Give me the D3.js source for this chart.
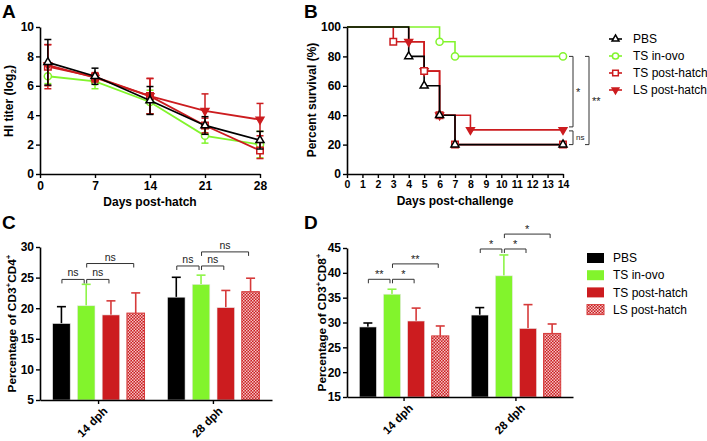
<!DOCTYPE html>
<html><head><meta charset="utf-8">
<script src="https://cdn.jsdelivr.net/npm/d3@7/dist/d3.min.js"></script>
<style>
body{margin:0;background:#fff}
text{font-family:"Liberation Sans",Arial,Helvetica,sans-serif}
</style></head>
<body>
<svg id="chart" width="707" height="441"></svg>
<script>
// ---------- DATA ----------
const groups = ["PBS", "TS in-ovo", "TS post-hatch", "LS post-hatch"];
const groupColors = ["#000000", "#82f42c", "#cc1c1f", "#cc1c1f"];
const markerTypes = ["tri", "circ", "sq", "tridown"];

// Panel A: HI titer
const hiDays = [1, 7, 14, 21, 28];
const hiPBS = [7.6, 6.65, 5.0, 3.3, 2.3];
const hiPBSErr = [1.55, 0.55, 0.95, 0.6, 0.6];
const hiInovo = [6.65, 6.3, 4.9, 2.6, 2.0];
const hiInovoErr = [0.5, 0.5, 0.8, 0.5, 0.9];
const hiTSph = [7.3, 6.6, 5.3, 3.3, 1.6];
const hiTSphErr = [1.5, 0.3, 1.2, 0.5, 0.55];
const hiLSph = [7.4, 6.55, 5.3, 4.3, 3.7];
const hiLSphErr = [1.4, 0.3, 1.2, 1.15, 1.1];
const hiYTicks = [0, 2, 4, 6, 8, 10];
const hiXTicks = [0, 7, 14, 21, 28];

// Panel B: survival
const survDays = [0,1,2,3,4,5,6,7,8,9,10,11,12,13,14];
const survPBS   = [100,100,100,100,80,60,40,20,20,20,20,20,20,20,20];
const survInovo = [100,100,100,100,100,100,90,80,80,80,80,80,80,80,80];
const survTSph  = [100,100,100,90,90,70,40,20,20,20,20,20,20,20,20];
const survLSph  = [100,100,100,100,90,70,40,40,30,30,30,30,30,30,30];
const survMarkPBS = [4,5,6,7,14];
const survMarkInovo = [6,7,14];
const survMarkTSph = [3,5,6,7,14];
const survMarkLSph = [4,5,6,8,14];
const survYTicks = [0,20,40,60,80,100];
// comparisons: [fromValue, toValue, label, column]
const survSig = [[80, 30, "*", 0], [30, 20, "ns", 0], [80, 20, "**", 1]];

// Panel C: CD3+CD4+
const timepoints = ["14 dph", "28 dph"];
const cd4Mean14 = [17.5, 20.4, 18.9, 19.2];
const cd4Err14  = [2.75, 3.5, 2.3, 3.3];
const cd4Mean28 = [21.8, 23.9, 20.1, 22.7];
const cd4Err28  = [3.25, 1.5, 2.8, 2.2];
const cd4YTicks = [5,10,15,20,25,30];
// [timepoint, groupA, groupB, yValue, label]
const cd4Sig = [[0,0,1,24.7,"ns"],[0,1,2,24.7,"ns"],[0,1,3,27.3,"ns"],
                [1,0,1,26.9,"ns"],[1,1,2,26.9,"ns"],[1,1,3,29.2,"ns"]];

// Panel D: CD3+CD8+
const cd8Mean14 = [29.1, 35.7, 30.3, 27.3];
const cd8Err14  = [0.8, 1.0, 2.6, 2.0];
const cd8Mean28 = [31.5, 39.4, 28.8, 27.8];
const cd8Err28  = [1.5, 4.2, 4.8, 1.9];
const cd8YTicks = [15,20,25,30,35,40,45];
const cd8Sig = [[0,0,1,38.7,"**"],[0,1,2,38.7,"*"],[0,1,3,41.8,"**"],
                [1,0,1,44.8,"*"],[1,1,2,44.8,"*"],[1,1,3,47.8,"*"]];

// ---------- DRAW ----------
const svg = d3.select("#chart");
const defs = svg.append("defs");
const pat = defs.append("pattern").attr("id","checker").attr("patternUnits","userSpaceOnUse")
  .attr("width",3).attr("height",3);
pat.append("rect").attr("width",3).attr("height",3).attr("fill","#cc1c1f");
pat.append("rect").attr("x",0).attr("y",0).attr("width",1.5).attr("height",1.5).attr("fill","#f2c4c4");
pat.append("rect").attr("x",1.5).attr("y",1.5).attr("width",1.5).attr("height",1.5).attr("fill","#f2c4c4");

function styleAxis(g, fs){
  g.select(".domain").attr("stroke","#000").attr("stroke-width",1.6);
  g.selectAll(".tick line").attr("stroke","#000").attr("stroke-width",1.4);
  g.selectAll(".tick text").attr("fill","#000").attr("font-weight","bold")
    .attr("font-size",fs).attr("font-family",'"Liberation Sans",Arial,sans-serif');
}

function marker(g, type, x, y, color, size){
  size = size || 1;
  let sym, rot = 0, filled = false, area;
  if (type==="tri"){ sym = d3.symbolTriangle; area = 28*size; }
  else if (type==="circ"){ sym = d3.symbolCircle; area = 40*size; }
  else if (type==="sq"){ sym = d3.symbolSquare; area = 42*size; }
  else { sym = d3.symbolTriangle; rot = 180; filled = true; area = 26*size; }
  g.append("path").attr("d", d3.symbol().type(sym).size(area)())
    .attr("transform", `translate(${x},${y}) rotate(${rot})`)
    .attr("fill", filled ? color : "#fff").attr("stroke", color).attr("stroke-width",1.5);
}

function panelLetter(t,x,y){
  svg.append("text").attr("x",x).attr("y",y).text(t).attr("font-size",19).attr("font-weight","bold");
}
panelLetter("A",2,18); panelLetter("B",304,18); panelLetter("C",2,229); panelLetter("D",304,229);

// ===== Panel A =====
{
  const x = d3.scaleLinear().domain([0,28]).range([40,260]);
  const y = d3.scaleLinear().domain([0,10]).range([174,27]);
  const g = svg.append("g");
  const gx = g.append("g").attr("transform","translate(0,174)")
    .call(d3.axisBottom(x).tickValues(hiXTicks).tickSize(4).tickSizeOuter(0).tickPadding(3));
  styleAxis(gx, 12);
  const gy = g.append("g").attr("transform","translate(40,0)")
    .call(d3.axisLeft(y).tickValues(hiYTicks).tickSize(4).tickSizeOuter(0).tickPadding(2));
  styleAxis(gy, 12);
  g.append("text").attr("x",150).attr("y",206).attr("text-anchor","middle")
    .attr("font-size",12).attr("font-weight","bold").text("Days post-hatch");
  const yt = g.append("text").attr("transform","translate(13,101) rotate(-90)")
    .attr("text-anchor","middle").attr("font-size",12).attr("font-weight","bold");
  yt.append("tspan").text("HI titer (log");
  yt.append("tspan").attr("font-size",8).attr("dy",3).text("2");
  yt.append("tspan").attr("dy",-3).text(")");

  const series = [
    {m: hiInovo, e: hiInovoErr, i: 1},
    {m: hiTSph, e: hiTSphErr, i: 2},
    {m: hiLSph, e: hiLSphErr, i: 3},
    {m: hiPBS, e: hiPBSErr, i: 0}
  ];
  const line = d3.line().x((d,k)=>x(hiDays[k])).y(d=>y(d));
  series.forEach(s=>{
    const c = groupColors[s.i];
    const sg = g.append("g");
    s.m.forEach((v,k)=>{
      const xx = x(hiDays[k]);
      sg.append("line").attr("x1",xx).attr("x2",xx).attr("y1",y(v+s.e[k])).attr("y2",y(v-s.e[k]))
        .attr("stroke",c).attr("stroke-width",1.5);
      [v+s.e[k], v-s.e[k]].forEach(vv=>sg.append("line").attr("x1",xx-3.5).attr("x2",xx+3.5)
        .attr("y1",y(vv)).attr("y2",y(vv)).attr("stroke",c).attr("stroke-width",1.5));
    });
    sg.append("path").attr("d", line(s.m)).attr("fill","none").attr("stroke",c).attr("stroke-width",1.8);
    s.m.forEach((v,k)=>marker(sg, markerTypes[s.i], x(hiDays[k]), y(v), c));
  });
}

// ===== Panel B =====
{
  const x = d3.scaleLinear().domain([0,14]).range([347,563]);
  const y = d3.scaleLinear().domain([0,100]).range([174,27]);
  const g = svg.append("g");
  const gx = g.append("g").attr("transform","translate(0,174)")
    .call(d3.axisBottom(x).tickValues(survDays).tickSize(4).tickSizeOuter(0).tickPadding(3));
  styleAxis(gx, 10.5);
  const gy = g.append("g").attr("transform","translate(347,0)")
    .call(d3.axisLeft(y).tickValues(survYTicks).tickSize(4).tickSizeOuter(0).tickPadding(2));
  styleAxis(gy, 12);
  g.append("text").attr("x",455).attr("y",205).attr("text-anchor","middle")
    .attr("font-size",12).attr("font-weight","bold").text("Days post-challenge");
  g.append("text").attr("transform","translate(316,100) rotate(-90)")
    .attr("text-anchor","middle").attr("font-size",12).attr("font-weight","bold").text("Percent survival (%)");

  const series = [
    {v: survLSph, mk: survMarkLSph, i: 3},
    {v: survTSph, mk: survMarkTSph, i: 2},
    {v: survInovo, mk: survMarkInovo, i: 1},
    {v: survPBS, mk: survMarkPBS, i: 0}
  ];
  const line = d3.line().x((d,k)=>x(survDays[k])).y(d=>y(d)).curve(d3.curveStepAfter);
  series.forEach(s=>{
    g.append("path").attr("d", line(s.v)).attr("fill","none")
      .attr("stroke", groupColors[s.i]).attr("stroke-width",1.6);
  });
  series.forEach(s=>{
    s.mk.forEach(d=>marker(g, markerTypes[s.i], x(d), y(s.v[survDays.indexOf(d)]), groupColors[s.i]));
  });
  // significance brackets
  survSig.forEach(([a,b,lab,col])=>{
    const bx = x(14) + 10 + col*16;
    const y1 = y(a), y2 = (lab==="*") ? y(b)-3 : y(b);
    const y1b = (lab==="ns") ? y(a)+1 : y1;
    g.append("path").attr("d",`M${bx-4},${y1b}H${bx}V${y2}H${bx-4}`).attr("fill","none")
      .attr("stroke","#333").attr("stroke-width",1);
    g.append("text").attr("x",bx+3).attr("y",(y1b+y2)/2+ (lab==="ns"?0:4)).attr("font-size",lab==="ns"?8:11)
      .attr("dominant-baseline", lab==="ns" ? "central" : "auto").attr("fill","#222").text(lab);
  });
  // legend
  groups.forEach((name,i)=>{
    const ly = 39 + i*17;
    g.append("line").attr("x1",609).attr("x2",622).attr("y1",ly).attr("y2",ly)
      .attr("stroke",groupColors[i]).attr("stroke-width",1.6);
    marker(g, markerTypes[i], 615.5, ly, groupColors[i], 0.75);
    g.append("text").attr("x",633).attr("y",ly).attr("dy","0.35em").attr("font-size",12).text(name);
  });
}

// ===== Bar panels =====
function barPanel(opts){
  const {x0, x1, yTop, yBot, dom, ticks, means, errs, sig, titleParts, titleX} = opts;
  const y = d3.scaleLinear().domain(dom).range([yBot, yTop]);
  const xOuter = d3.scaleBand().domain(timepoints).range([x0, x1]).paddingInner(0.2).paddingOuter(0.11);
  const xInner = d3.scaleBand().domain(groups).range([0, xOuter.bandwidth()]).paddingInner(0.29).paddingOuter(0);
  const g = svg.append("g");
  const fills = [groupColors[0], groupColors[1], groupColors[2], "url(#checker)"];
  const errColors = ["#000", "#8ef548", "#d63a3a", "#d63a3a"];
  timepoints.forEach((tp,t)=>{
    groups.forEach((gr,i)=>{
      const bx = xOuter(tp) + xInner(gr), bw = xInner.bandwidth();
      const m = means[t][i], e = errs[t][i];
      const cx = bx + bw/2;
      g.append("line").attr("x1",cx).attr("x2",cx).attr("y1",y(m)).attr("y2",y(m+e))
        .attr("stroke",errColors[i]).attr("stroke-width",1.6);
      g.append("line").attr("x1",cx-4.5).attr("x2",cx+4.5).attr("y1",y(m+e)).attr("y2",y(m+e))
        .attr("stroke",errColors[i]).attr("stroke-width",1.6);
      g.append("rect").attr("x",bx).attr("y",y(m)).attr("width",bw).attr("height",y(dom[0])-y(m))
        .attr("fill",fills[i]).attr("stroke", i===3 ? "#d63a3a" : "#e8e8e8").attr("stroke-width", i===3?1:0.6);
    });
  });
  const gx = g.append("g").attr("transform",`translate(0,${yBot})`)
    .call(d3.axisBottom(xOuter).tickSize(4).tickSizeOuter(0).tickFormat(""));
  styleAxis(gx, 12);
  gx.selectAll(".tick").append("text").attr("transform","translate(4,6) rotate(-45)")
    .attr("text-anchor","end").attr("dy","0.7em").attr("fill","#000")
    .attr("font-size",11.5).attr("font-weight","bold").text(d=>d);
  const gy = g.append("g").attr("transform",`translate(${x0},0)`)
    .call(d3.axisLeft(y).tickValues(ticks).tickSize(4).tickSizeOuter(0).tickPadding(2));
  styleAxis(gy, 12);
  // y title
  const tt = g.append("text").attr("transform",`translate(${titleX},${(yTop+yBot)/2}) rotate(-90)`)
    .attr("text-anchor","middle").attr("font-size",11.8).attr("font-weight","bold");
  tt.append("tspan").text("Percentage of CD3");
  tt.append("tspan").attr("font-size",8).attr("dy",-5).text("+");
  tt.append("tspan").attr("dy",5).text(titleParts);
  tt.append("tspan").attr("font-size",8).attr("dy",-5).text("+");
  // significance
  sig.forEach(([t,a,b,val,lab])=>{
    const tp = timepoints[t];
    const ca = xOuter(tp) + xInner(groups[a]) + xInner.bandwidth()/2 + 0.5;
    const cb = xOuter(tp) + xInner(groups[b]) + xInner.bandwidth()/2 - 2;
    const yy = y(val);
    g.append("path").attr("d",`M${ca},${yy+4}V${yy}H${cb}V${yy+4}`).attr("fill","none")
      .attr("stroke","#333").attr("stroke-width",1);
    g.append("text").attr("x",(ca+cb)/2).attr("y", lab==="ns" ? yy-3 : yy-1).attr("text-anchor","middle")
      .attr("font-size", lab==="ns" ? 10.5 : 11).attr("fill","#222").text(lab);
  });
}

barPanel({x0:40, x1:272, yTop:247, yBot:400, dom:[5,30], ticks:cd4YTicks,
  means:[cd4Mean14, cd4Mean28], errs:[cd4Err14, cd4Err28], sig:cd4Sig, titleParts:"CD4", titleX:16});
barPanel({x0:347, x1:573, yTop:248, yBot:397, dom:[15,45], ticks:cd8YTicks,
  means:[cd8Mean14, cd8Mean28], errs:[cd8Err14, cd8Err28], sig:cd8Sig, titleParts:"CD8", titleX:326});

// legend D
{
  const fills = [groupColors[0], groupColors[1], groupColors[2], "url(#checker)"];
  groups.forEach((name,i)=>{
    const ly = 258 + i*17.2;
    svg.append("rect").attr("x",587).attr("y",ly-5).attr("width",17).attr("height",10)
      .attr("fill",fills[i]).attr("stroke", i===3 ? "#d63a3a" : "none");
    svg.append("text").attr("x",613).attr("y",ly).attr("dy","0.35em").attr("font-size",12).text(name);
  });
}
</script>
</body></html>
